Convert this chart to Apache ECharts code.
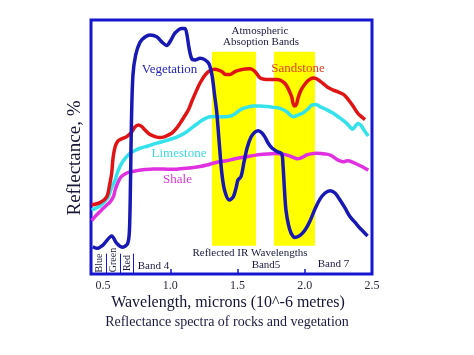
<!DOCTYPE html>
<html><head><meta charset="utf-8">
<script src="https://cdn.jsdelivr.net/npm/echarts@6/dist/echarts.min.js"></script>
<style>html,body{margin:0;padding:0;background:#fff}#c{width:474px;height:355px}</style>
</head><body><div id="c"></div>
<script>
// wavelength (microns), reflectance (relative %, 0-100 of plot height)
const vegetation = [[0.423,10.7],[0.452,10.1],[0.499,11.4],[0.564,15.0],[0.601,12.1],[0.646,10.5],[0.683,12.1],
 [0.696,17.3],[0.704,37.0],[0.711,60.6],[0.722,78.3],[0.742,86.2],[0.775,91.3],[0.812,93.3],[0.849,94.1],
 [0.899,93.4],[0.938,91.3],[0.973,90.0],[1.005,92.1],[1.035,94.9],[1.085,96.7],[1.109,96.7],[1.124,94.1],
 [1.139,89.0],[1.159,84.8],[1.184,84.3],[1.221,84.9],[1.258,84.3],[1.288,82.7],[1.310,78.3],[1.329,70.5],
 [1.345,63.8],[1.362,52.8],[1.382,40.2],[1.403,33.1],[1.439,29.1],[1.468,30.4],[1.489,33.9],[1.503,37.0],
 [1.526,38.4],[1.548,44.1],[1.571,49.6],[1.600,53.9],[1.630,55.9],[1.654,56.4],[1.682,55.5],[1.704,53.9],
 [1.727,51.6],[1.756,49.6],[1.793,48.2],[1.828,47.4],[1.838,42.9],[1.849,33.1],[1.860,25.2],[1.879,19.3],
 [1.898,16.1],[1.927,14.4],[1.965,15.2],[2.002,17.3],[2.039,20.9],[2.076,25.6],[2.113,29.5],[2.151,31.9],
 [2.188,32.8],[2.225,31.9],[2.262,29.1],[2.299,26.0],[2.336,22.6],[2.374,20.3],[2.411,18.0],[2.467,15.0]];
const sandstone = [[0.415,27.2],[0.477,28.1],[0.527,30.4],[0.548,35.0],[0.564,39.8],[0.574,45.7],[0.589,50.0],
 [0.611,52.4],[0.641,53.3],[0.676,54.1],[0.713,56.0],[0.737,57.9],[0.762,58.7],[0.786,58.1],[0.812,56.7],
 [0.849,54.9],[0.886,54.1],[0.923,53.7],[0.960,54.1],[1.010,55.4],[1.042,57.1],[1.072,59.3],[1.102,61.8],
 [1.134,64.6],[1.161,68.1],[1.196,72.4],[1.221,75.2],[1.258,78.3],[1.295,80.1],[1.332,80.6],[1.358,80.3],
 [1.382,79.7],[1.414,78.5],[1.444,78.5],[1.481,79.7],[1.518,80.3],[1.555,80.7],[1.593,80.8],[1.622,80.1],
 [1.645,78.7],[1.667,77.2],[1.697,76.7],[1.741,76.6],[1.791,76.6],[1.823,76.2],[1.853,75.0],[1.875,73.2],
 [1.894,70.9],[1.905,69.3],[1.912,67.3],[1.924,66.1],[1.939,66.9],[1.950,69.3],[1.972,72.4],[2.002,74.8],
 [2.031,76.4],[2.061,77.2],[2.091,76.8],[2.136,75.0],[2.173,73.4],[2.212,72.4],[2.247,71.7],[2.287,70.7],
 [2.314,69.3],[2.336,67.8],[2.359,66.1],[2.386,63.9],[2.411,62.4],[2.448,60.8]];
const limestone = [[0.415,25.2],[0.477,26.8],[0.514,28.7],[0.539,30.4],[0.562,33.9],[0.589,37.0],[0.611,40.6],
 [0.638,43.6],[0.667,45.7],[0.700,47.5],[0.737,48.6],[0.774,49.5],[0.834,50.4],[0.899,51.5],[0.960,52.4],
 [1.022,53.4],[1.072,54.5],[1.122,56.0],[1.169,57.9],[1.221,60.0],[1.258,61.2],[1.295,61.9],[1.340,62.0],
 [1.394,61.9],[1.429,62.0],[1.468,62.6],[1.503,64.0],[1.533,65.0],[1.568,65.6],[1.615,66.1],[1.667,66.1],
 [1.719,65.9],[1.766,65.6],[1.816,65.2],[1.866,63.9],[1.891,62.6],[1.915,61.9],[1.950,62.6],[1.989,63.5],
 [2.024,65.0],[2.052,66.5],[2.084,66.7],[2.113,65.9],[2.158,64.8],[2.212,63.3],[2.262,61.4],[2.312,59.3],
 [2.336,57.9],[2.356,57.0],[2.377,58.3],[2.398,59.3],[2.418,58.5],[2.440,56.7],[2.472,54.3]];
const shale = [[0.415,21.0],[0.440,22.6],[0.464,23.9],[0.492,25.4],[0.527,27.2],[0.551,28.3],[0.576,30.4],
 [0.592,33.5],[0.613,36.3],[0.633,38.2],[0.663,39.4],[0.700,40.2],[0.750,40.7],[0.812,41.1],[0.873,41.3],
 [0.946,41.3],[1.022,41.2],[1.094,41.5],[1.171,41.9],[1.221,42.3],[1.271,42.9],[1.340,43.9],[1.419,44.6],
 [1.488,45.5],[1.568,46.2],[1.637,46.8],[1.717,47.2],[1.779,47.4],[1.840,47.2],[1.875,46.7],[1.915,45.9],
 [1.942,45.4],[1.965,45.5],[1.987,46.1],[2.014,46.9],[2.046,47.3],[2.089,47.5],[2.121,47.4],[2.163,47.2],
 [2.195,46.7],[2.237,45.2],[2.262,44.5],[2.287,44.2],[2.307,44.5],[2.324,44.6],[2.351,44.1],[2.386,43.3],
 [2.425,42.3],[2.472,40.9]];
// atmospheric absorption bands: [xStart, xEnd, yBottom, yTop]
const absorptionBands = [[1.310, 1.637, 11.1, 87.5], [1.771, 2.076, 11.1, 87.5]];
// visible band dividers (Blue | Green | Red |)
const visibleDividers = [0.527, 0.626, 0.725];
const xTickLabels = [0.5, 1.0, 1.5, 2.0, 2.5];
const xInnerTicks = [1.0, 1.5, 2.0];

const FRAME = '#1616d0';
const SERIF = '"Liberation Serif", "DejaVu Serif", serif';
const chart = echarts.init(document.getElementById('c'), null, {renderer: 'canvas'});

function txt(text, x, y, size, color, extra) {
  return Object.assign({type: 'text', x: x, y: y, z: 100,
    style: {text: text, font: size + 'px ' + SERIF, fill: color, textAlign: 'center', textVerticalAlign: 'middle'}}, extra || {});
}
function lineSeries(name, data, color, z) {
  return {name: name, type: 'line', data: data, showSymbol: false, symbol: 'none', smooth: 0.3,
    lineStyle: {color: color, width: 3.5}, z: z, clip: true};
}

chart.setOption({
  animation: false,
  grid: {left: 91, top: 20, width: 281, height: 254, show: true, borderColor: FRAME, borderWidth: 3, backgroundColor: 'transparent'},
  xAxis: {type: 'value', min: 0.41, max: 2.5,
    axisLine: {show: false},
    axisTick: {show: true, inside: true, length: 5, customValues: xInnerTicks, lineStyle: {color: FRAME, width: 1.5}},
    axisLabel: {customValues: xTickLabels, formatter: v => v.toFixed(1), margin: 6,
      fontFamily: SERIF, fontSize: 12, color: '#2a2a3a'},
    splitLine: {show: false}},
  yAxis: {type: 'value', min: 0, max: 100, show: true,
    axisLine: {show: false}, axisTick: {show: false}, axisLabel: {show: false}, splitLine: {show: false}},
  series: [
    {type: 'line', data: [], z: 1,
      markArea: {silent: true, itemStyle: {color: '#ffff00'},
        data: absorptionBands.map(b => [{coord: [b[0], b[2]]}, {coord: [b[1], b[3]]}])},
      markLine: {silent: true, symbol: 'none', label: {show: false}, lineStyle: {color: FRAME, width: 1, type: 'solid'},
        data: visibleDividers.map(x => [{coord: [x, 0]}, {coord: [x, 8]}])}},
    lineSeries('Shale', shale, '#e030e0', 3),
    lineSeries('Limestone', limestone, '#33e2ea', 4),
    lineSeries('Sandstone', sandstone, '#e01414', 5),
    lineSeries('Vegetation', vegetation, '#1818b4', 6)
  ],
  graphic: [
    txt('Reflectance, %', 75, 158, 19, '#151535', {rotation: Math.PI / 2}),
    txt('Wavelength, microns (10^-6 metres)', 228, 303, 16, '#151535'),
    txt('Reflectance spectra of rocks and vegetation', 227, 322, 14, '#1a1a40'),
    txt('Atmospheric', 260, 31, 11, '#1a1a40'),
    txt('Absoption Bands', 261, 42.5, 11, '#1a1a40'),
    txt('Vegetation', 169.5, 70, 13, '#2525b5'),
    txt('Sandstone', 298, 69, 13, '#e2401c'),
    txt('Limestone', 179, 154, 13, '#3fd8e2'),
    txt('Shale', 177.5, 180, 13, '#d838d8'),
    txt('Reflected IR Wavelengths', 250, 253, 11, '#1a1a40'),
    txt('Band 4', 153.5, 266, 11, '#1a1a40'),
    txt('Band5', 266, 265.5, 11, '#1a1a40'),
    txt('Band 7', 333.5, 264, 11, '#1a1a40'),
    txt('Blue', 99.5, 263, 10, '#1a1a40', {rotation: Math.PI / 2}),
    txt('Green', 113.3, 260, 10, '#1a1a40', {rotation: Math.PI / 2}),
    txt('Red', 127.3, 263, 10, '#1a1a40', {rotation: Math.PI / 2})
  ]
});
</script>
</body></html>
